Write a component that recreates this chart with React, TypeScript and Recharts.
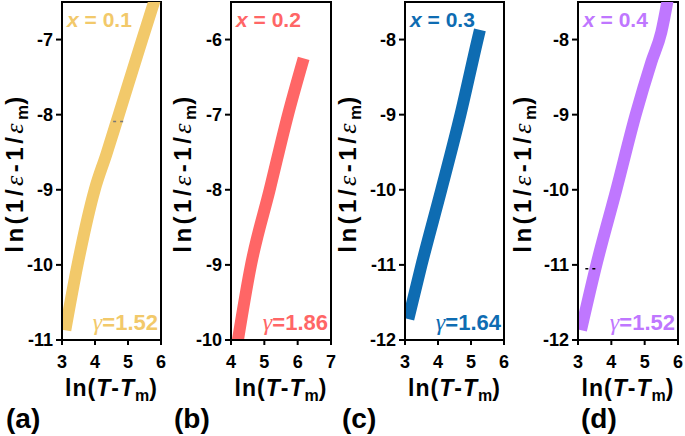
import React from 'react';
import { LineChart, Line, XAxis, YAxis, ReferenceArea } from 'recharts';

// ---- data ----
const seriesA = [
  { x: 3.1, y: -10.87 }, { x: 3.47, y: -10 }, { x: 3.99, y: -9 }, { x: 4.35, y: -8.52 },
  { x: 4.72, y: -8 }, { x: 5.43, y: -7 }, { x: 5.79, y: -6.5 }, { x: 5.86, y: -6.4 },
];
const seriesB = [
  { x: 4.19, y: -10.05 }, { x: 4.6, y: -9 }, { x: 5.16, y: -8 },
  { x: 5.71, y: -7 }, { x: 6.18, y: -6.25 },
];
const seriesC = [
  { x: 3.1, y: -11.72 }, { x: 3.5, y: -11 }, { x: 4.1, y: -10 }, { x: 4.68, y: -9 },
  { x: 5.2, y: -8 }, { x: 5.27, y: -7.87 },
];
const seriesD = [
  { x: 3.09, y: -11.87 }, { x: 3.55, y: -11 }, { x: 4.15, y: -10 },
  { x: 4.73, y: -9 }, { x: 5.2, y: -8.3 }, { x: 5.5, y: -7.9 }, { x: 5.74, y: -7.35 },
];
const markA = [{ x: 4.55, y: -8.09 }, { x: 4.9, y: -8.09 }];
const markD = [{ x: 3.22, y: -11.05 }, { x: 3.56, y: -11.05 }];

const xTicksA = [3, 4, 5, 6];
const xTicksB = [4, 5, 6, 7];
const xTicksC = [3, 4, 5, 6];
const xTicksD = [3, 4, 5, 6];
const yTicksA = [-11, -10, -9, -8, -7];
const yTicksB = [-10, -9, -8, -7, -6];
const yTicksC = [-12, -11, -10, -9, -8];
const yTicksD = [-12, -11, -10, -9, -8];

const compositions = ['0.1', '0.2', '0.3', '0.4'];
const gammas = ['1.52', '1.86', '1.64', '1.52'];
const panelLetters = ['(a)', '(b)', '(c)', '(d)'];

// ---- layout / style ----
const SANS = '"Liberation Sans", Arial, Helvetica, sans-serif';
const SERIF = '"Liberation Serif", "Times New Roman", serif';
const AXIS_W = 70;
const TOP = 2;
const X_AXIS_H = 96;
const H = 436;

const panels = [
  { series: seriesA, mark: markA, markColor: '#777', color: '#F2C96A', xDomain: [3, 6], yDomain: [-11, -6.5], xTicks: xTicksA, yTicks: yTicksA, plotLeft: 62, plotWidth: 99, titleX: 23, letterX: 6 },
  { series: seriesB, mark: null, markColor: '#000', color: '#FF6666', xDomain: [4, 7], yDomain: [-10, -5.5], xTicks: xTicksB, yTicks: yTicksB, plotLeft: 231, plotWidth: 100, titleX: 191, letterX: 174 },
  { series: seriesC, mark: null, markColor: '#000', color: '#0E6CB2', xDomain: [3, 6], yDomain: [-12, -7.5], xTicks: xTicksC, yTicks: yTicksC, plotLeft: 405, plotWidth: 99, titleX: 356, letterX: 342 },
  { series: seriesD, mark: markD, markColor: '#000', color: '#BF77FF', xDomain: [3, 6], yDomain: [-12, -7.5], xTicks: xTicksD, yTicks: yTicksD, plotLeft: 578, plotWidth: 100, titleX: 531, letterX: 581 },
];

const tickStyle = { fill: '#000', fontSize: 18, fontWeight: 'bold', fontFamily: SANS };

function Panel({ p }: { p: any }) {
  const width = AXIS_W + p.plotWidth + 6;
  return (
    <div style={{ position: 'absolute', left: p.plotLeft - AXIS_W, top: 0, width, height: H }}>
      <LineChart width={width} height={H} margin={{ top: TOP, right: 6, bottom: 0, left: 0 }}>
        <XAxis
          type="number"
          dataKey="x"
          domain={p.xDomain}
          ticks={p.xTicks}
          allowDataOverflow
          height={X_AXIS_H}
          tick={tickStyle}
          tickSize={5}
          tickMargin={10}
          axisLine={{ stroke: '#000', strokeWidth: 2 }}
          tickLine={{ stroke: '#000', strokeWidth: 2 }}
        />
        <YAxis
          type="number"
          dataKey="y"
          domain={p.yDomain}
          ticks={p.yTicks}
          allowDataOverflow
          width={AXIS_W}
          tick={tickStyle}
          tickSize={6}
          tickMargin={3}
          axisLine={{ stroke: '#000', strokeWidth: 2 }}
          tickLine={{ stroke: '#000', strokeWidth: 2 }}
        />
        <Line
          data={p.series}
          dataKey="y"
          type="monotone"
          stroke={p.color}
          strokeWidth={12}
          strokeLinecap="butt"
          strokeLinejoin="round"
          dot={false}
          activeDot={false}
          isAnimationActive={false}
        />
        {p.mark && (
          <Line
            data={p.mark}
            dataKey="y"
            type="linear"
            stroke={p.markColor}
            strokeWidth={1.5}
            strokeDasharray="3 4"
            dot={false}
            activeDot={false}
            isAnimationActive={false}
          />
        )}
        <ReferenceArea
          x1={p.xDomain[0]}
          x2={p.xDomain[1]}
          y1={p.yDomain[0]}
          y2={p.yDomain[1]}
          fill="none"
          fillOpacity={0}
          stroke="#000"
          strokeWidth={2}
          ifOverflow="visible"
        />
      </LineChart>
    </div>
  );
}

function Texts() {
  return (
    <svg width={685} height={436} style={{ position: 'absolute', left: 0, top: 0, pointerEvents: 'none' }}>
      {panels.map((p, i) => {
        const cx = p.plotLeft + p.plotWidth / 2;
        const right = p.plotLeft + p.plotWidth;
        return (
          <g key={i} fontFamily={SANS} fontWeight="bold">
            {/* y axis title */}
            <text transform={`translate(${p.titleX},173) rotate(-90)`} textAnchor="middle" fontSize={24} letterSpacing={3.5} fill="#000">
              ln(1/<tspan fontFamily={SERIF} fontStyle="italic" fontWeight="normal" fontSize={26}>ε</tspan>-1/<tspan fontFamily={SERIF} fontStyle="italic" fontWeight="normal" fontSize={26}>ε</tspan><tspan dy={5} fontSize={17} letterSpacing={0}>m</tspan><tspan dy={-5}>)</tspan>
            </text>
            {/* x axis title */}
            <text x={cx} y={396} textAnchor="middle" fontSize={23} letterSpacing={1} fill="#000">
              ln(<tspan fontStyle="italic">T</tspan>-<tspan fontStyle="italic">T</tspan><tspan dy={5} fontSize={16} letterSpacing={0}>m</tspan><tspan dy={-5}>)</tspan>
            </text>
            {/* panel letter */}
            <text x={p.letterX} y={428} fontSize={28} fill="#000">{panelLetters[i]}</text>
            {/* composition */}
            <text x={p.plotLeft + 5} y={27} fontSize={21} fill={p.color}>
              <tspan fontStyle="italic">x</tspan> = {compositions[i]}
            </text>
            {/* gamma */}
            <text x={right - 3} y={330} textAnchor="end" fontSize={22} fill={p.color}>
              <tspan fontFamily={SERIF} fontStyle="italic" fontWeight="normal" fontSize={24}>γ</tspan>={gammas[i]}
            </text>
          </g>
        );
      })}
    </svg>
  );
}

export default function App() {
  return (
    <div style={{ position: 'absolute', left: 0, top: 0, width: 685, height: 436, background: '#fff', overflow: 'hidden', fontFamily: SANS }}>
      {panels.map((p, i) => (
        <Panel key={i} p={p} />
      ))}
      <Texts />
    </div>
  );
}
